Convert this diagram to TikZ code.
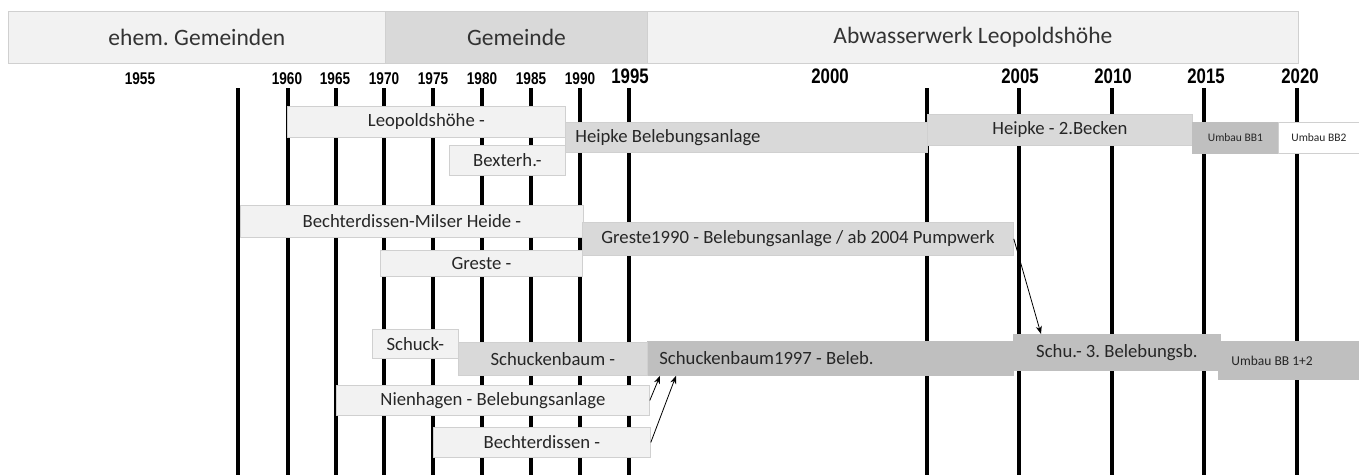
\documentclass[tikz,border=0pt]{standalone}
\usepackage{fontspec}
\setmainfont{Carlito}
\newfontfamily\yearfont{Liberation Sans}[FakeStretch=0.8]
\usetikzlibrary{arrows.meta}

\definecolor{paleFill}{HTML}{F2F2F2}
\definecolor{midFill}{HTML}{D9D9D9}
\definecolor{darkFill}{HTML}{BFBFBF}
\definecolor{edgeGray}{HTML}{D0D0D0}
\definecolor{inkGray}{HTML}{262626}

\newcommand{\lefttxt}[2]{\makebox[#1pt][l]{#2}}

\tikzset{
  wh/.style 2 args={minimum width=#1pt, minimum height=#2pt},
  bar/.style={anchor=north west, inner sep=0pt, draw=edgeGray, line width=0.8pt,
    text=inkGray, font=\fontsize{18.7}{20}\selectfont},
  palebar/.style={bar, fill=paleFill},
  midbar/.style={bar, fill=midFill},
  darkbar/.style={bar, fill=darkFill, draw=darkFill},
  smalltext/.style={font=\fontsize{11.5}{13}\selectfont},
  headbox/.style={bar, font=\fontsize{23.5}{26}\selectfont, text=black!80},
  yearsmall/.style={font=\yearfont\bfseries\fontsize{17}{18}\selectfont},
  yearbig/.style={font=\yearfont\bfseries\fontsize{21}{22}\selectfont},
  yearline/.style={line width=4pt},
  link/.style={-{Stealth[length=8pt,width=6pt]}, line width=0.8pt},
}

\begin{document}
\frenchspacing
\begin{tikzpicture}[x=1pt, y=-1pt]
    \useasboundingbox (0,0) rectangle (1359,475);

    % header
    \node[headbox, fill=paleFill, wh={377}{52}] (former) at (8,11) {ehem. Gemeinden};
    \node[headbox, fill=midFill, wh={262}{52}] (council) at (385,11) {Gemeinde};
    \node[headbox, fill=paleFill, wh={651}{52}] (works) at (647,11) {Abwasserwerk Leopoldshöhe};

    % years
    \node[yearsmall] (y1955) at (140,78.5) {1955};
    \node[yearsmall] (y1960) at (287,78.5) {1960};
    \node[yearsmall] (y1965) at (335,78.5) {1965};
    \node[yearsmall] (y1970) at (384,78.5) {1970};
    \node[yearsmall] (y1975) at (433,78.5) {1975};
    \node[yearsmall] (y1980) at (482,78.5) {1980};
    \node[yearsmall] (y1985) at (531,78.5) {1985};
    \node[yearsmall] (y1990) at (580,78.5) {1990};
    \node[yearbig] (y1995) at (630,76.5) {1995};
    \node[yearbig] (y2000) at (830,76.5) {2000};
    \node[yearbig] (y2005) at (1020,76.5) {2005};
    \node[yearbig] (y2010) at (1113,76.5) {2010};
    \node[yearbig] (y2015) at (1206,76.5) {2015};
    \node[yearbig] (y2020) at (1300,76.5) {2020};

    \draw[yearline] (238,88) -- (238,475);
    \draw[yearline] (288,88) -- (288,475);
    \draw[yearline] (336,88) -- (336,475);
    \draw[yearline] (384,88) -- (384,475);
    \draw[yearline] (433,88) -- (433,475);
    \draw[yearline] (482,88) -- (482,475);
    \draw[yearline] (531,88) -- (531,475);
    \draw[yearline] (580,88) -- (580,475);
    \draw[yearline] (629,88) -- (629,475);
    \draw[yearline] (927,88) -- (927,475);
    \draw[yearline] (1019,88) -- (1019,475);
    \draw[yearline] (1112,88) -- (1112,475);
    \draw[yearline] (1204,88) -- (1204,475);
    \draw[yearline] (1297,88) -- (1297,475);

    % Heipke
    \node[palebar, wh={278}{31}] (leo) at (287,106) {Leopoldshöhe -};
    \node[midbar, wh={362}{30}] (heipke) at (565,122) {\lefttxt{342}{Heipke Belebungsanlage}};
    \node[palebar, wh={116}{30}] (bext) at (449,145) {Bexterh.-};
    \node[midbar, wh={265}{31}] (becken) at (927,114) {Heipke - 2.Becken};
    \node[darkbar, wh={86}{31}, smalltext] (bbone) at (1192,122) {Umbau BB1};
    \node[bar, fill=white, wh={81}{31}, smalltext] (bbtwo) at (1278,122) {Umbau BB2};

    % Greste
    \node[palebar, wh={343}{32}] (milse) at (240,205) {Bechterdissen-Milser Heide -};
    \node[midbar, wh={431}{33}] (greste90) at (582,222) {Greste1990 - Belebungsanlage / ab 2004 Pumpwerk};
    \node[palebar, wh={202}{26}] (greste) at (380,250) {Greste -};

    % Schuckenbaum
    \node[darkbar, wh={366}{34}] (sch97) at (647,341) {\lefttxt{342}{Schuckenbaum1997 - Beleb.}};
    \node[palebar, wh={86}{29}] (schuck) at (372,329) {Schuck-};
    \node[midbar, wh={189}{33}] (schbaum) at (458,342) {Schuckenbaum -};
    \node[darkbar, wh={207}{36}] (schu3) at (1013,334) {Schu.- 3. Belebungsb.};
    \node[darkbar, wh={141}{38}, font=\fontsize{13.5}{15}\selectfont] (bbboth) at (1218,341) {\lefttxt{115}{Umbau BB 1+2}};
    \node[palebar, wh={313}{30}] (nien) at (336,385) {Nienhagen - Belebungsanlage};
    \node[palebar, wh={217}{30}] (bech) at (433,427) {Bechterdissen -};

    \draw[link] (greste90.east) -- ([xshift=28pt]schu3.north west);
    \draw[link] (nien.east) -- ([xshift=13pt]sch97.south west);
    \draw[link] (bech.east) -- ([xshift=29pt]sch97.south west);
\end{tikzpicture}
\end{document}
